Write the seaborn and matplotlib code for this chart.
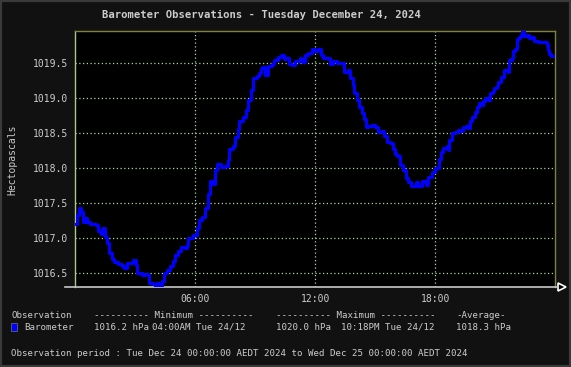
import pandas as pd
import matplotlib
matplotlib.use("Agg")
import matplotlib.pyplot as plt
import matplotlib.patches as mpatches
import seaborn as sns

# data (hours since midnight, hPa)
hours = [0.00, 0.09, 0.18, 0.28, 0.39, 0.48, 0.59, 0.73, 1.03, 1.14,
         1.26, 1.34, 1.48, 1.59, 1.69, 1.81, 1.94, 2.14, 2.31, 2.43,
         2.59, 2.73, 2.89, 3.01, 3.09, 3.31, 3.48, 3.61, 3.69, 3.89,
         3.99, 4.09, 4.19, 4.31, 4.44, 4.56, 4.73, 4.86, 4.99, 5.14,
         5.28, 5.48, 5.59, 5.64, 5.89, 6.06, 6.18, 6.34, 6.48, 6.61,
         6.73, 6.89, 6.98, 7.09, 7.28, 7.48, 7.61, 7.69, 7.89, 7.98,
         8.11, 8.19, 8.36, 8.51, 8.64, 8.78, 8.89, 9.06, 9.18, 9.28,
         9.39, 9.48, 9.61, 9.81, 9.94, 10.11, 10.28, 10.43, 10.53, 10.68,
         10.81, 10.98, 11.14, 11.23, 11.34, 11.48, 11.64, 11.81, 11.98, 12.11,
         12.26, 12.36, 12.59, 12.73, 12.89, 13.06, 13.31, 13.44, 13.61, 13.73,
         13.86, 13.94, 14.06, 14.19, 14.31, 14.44, 14.53, 14.64, 14.81, 14.98,
         15.11, 15.28, 15.43, 15.56, 15.73, 15.86, 15.98, 16.09, 16.23, 16.39,
         16.53, 16.64, 16.76, 16.93, 17.01, 17.14, 17.34, 17.51, 17.64, 17.81,
         17.98, 18.14, 18.19, 18.26, 18.39, 18.56, 18.64, 18.69, 18.81, 18.98,
         19.14, 19.28, 19.39, 19.53, 19.64, 19.73, 19.81, 19.98, 20.09, 20.19,
         20.31, 20.36, 20.48, 20.64, 20.73, 20.86, 20.94, 21.06, 21.14, 21.26,
         21.43, 21.61, 21.69, 21.81, 21.89, 21.98, 22.06, 22.18, 22.26, 22.34,
         22.44, 22.56, 22.69, 22.81, 22.94, 23.14, 23.48, 23.56, 23.64, 23.69,
         23.81, 23.93]
pressure = [1017.20, 1017.33, 1017.44, 1017.38, 1017.24, 1017.29, 1017.24, 1017.20, 1017.19, 1017.10,
            1017.06, 1017.14, 1017.02, 1016.93, 1016.79, 1016.71, 1016.66, 1016.63, 1016.61, 1016.57,
            1016.64, 1016.64, 1016.69, 1016.62, 1016.51, 1016.47, 1016.49, 1016.47, 1016.36, 1016.34,
            1016.30, 1016.36, 1016.30, 1016.39, 1016.51, 1016.55, 1016.60, 1016.67, 1016.76, 1016.82,
            1016.87, 1016.86, 1016.91, 1017.01, 1017.05, 1017.14, 1017.26, 1017.31, 1017.43, 1017.64,
            1017.82, 1017.78, 1017.98, 1018.06, 1018.02, 1018.03, 1018.12, 1018.27, 1018.32, 1018.45,
            1018.56, 1018.68, 1018.73, 1018.83, 1018.98, 1019.12, 1019.29, 1019.32, 1019.36, 1019.43,
            1019.45, 1019.33, 1019.46, 1019.49, 1019.55, 1019.59, 1019.62, 1019.56, 1019.57, 1019.49,
            1019.48, 1019.54, 1019.54, 1019.57, 1019.52, 1019.62, 1019.65, 1019.70, 1019.68, 1019.70,
            1019.62, 1019.57, 1019.57, 1019.49, 1019.54, 1019.50, 1019.50, 1019.38, 1019.41, 1019.29,
            1019.19, 1019.07, 1018.98, 1018.88, 1018.79, 1018.70, 1018.59, 1018.60, 1018.62, 1018.59,
            1018.52, 1018.54, 1018.46, 1018.38, 1018.36, 1018.27, 1018.20, 1018.17, 1018.05, 1017.98,
            1017.86, 1017.81, 1017.75, 1017.75, 1017.81, 1017.75, 1017.82, 1017.76, 1017.87, 1017.95,
            1018.00, 1018.00, 1018.14, 1018.24, 1018.29, 1018.32, 1018.26, 1018.41, 1018.50, 1018.52,
            1018.55, 1018.54, 1018.59, 1018.60, 1018.57, 1018.67, 1018.74, 1018.80, 1018.88, 1018.93,
            1018.90, 1018.96, 1019.01, 1018.98, 1019.07, 1019.10, 1019.15, 1019.18, 1019.23, 1019.31,
            1019.40, 1019.38, 1019.55, 1019.57, 1019.67, 1019.71, 1019.85, 1019.88, 1019.91, 1019.96,
            1019.89, 1019.90, 1019.86, 1019.87, 1019.82, 1019.81, 1019.81, 1019.76, 1019.69, 1019.63,
            1019.61, 1019.61]

x_ticks = [6, 12, 18]
x_tick_labels = ['06:00', '12:00', '18:00']
y_ticks = [1016.5, 1017.0, 1017.5, 1018.0, 1018.5, 1019.0, 1019.5]

title = 'Barometer Observations - Tuesday December 24, 2024'
stats_header = ['Observation', '---------- Minimum ----------',
                '---------- Maximum ----------', '-Average-']
stats_row = ['Barometer', '1016.2 hPa', '04:00AM Tue 24/12',
             '1020.0 hPa', '10:18PM Tue 24/12', '1018.3 hPa']
period = 'Observation period : Tue Dec 24 00:00:00 AEDT 2024 to Wed Dec 25 00:00:00 AEDT 2024'

df = pd.DataFrame({'hour': hours, 'hPa': pressure})

# style
sns.set_style('dark')
plt.rcParams['font.family'] = ['DejaVu Sans Mono']
BG = '#111111'
TXT = '#cccccc'
GRID = '#a8d8a0'

fig = plt.figure(figsize=(5.71, 3.67), dpi=100, facecolor=BG)
fig.patches.append(mpatches.Rectangle((0, 0), 1, 1, transform=fig.transFigure,
                                      fill=False, edgecolor='#3a3a3a', linewidth=3))
ax = fig.add_axes([0.1322, 0.2172, 0.8403, 0.6991])
ax.set_facecolor('black')

sns.lineplot(data=df, x='hour', y='hPa', ax=ax, color='#0000ff', linewidth=2.2,
             drawstyle='steps-post', zorder=3)

ax.set_xlim(0, 24)
ax.set_ylim(1016.3, 1019.966)
ax.set_xticks(x_ticks)
ax.set_xticklabels(x_tick_labels)
ax.set_yticks(y_ticks)
ax.set_yticklabels([f'{v:.1f}' for v in y_ticks])
ax.tick_params(colors=GRID, labelcolor=TXT, labelsize=7, length=3, width=0.8,
               direction='inout')
ax.grid(True, color=GRID, linestyle=(0, (1, 2)), linewidth=0.9)
ax.set_xlabel('')
ax.set_ylabel('')

for side in ['top', 'right']:
    ax.spines[side].set_color('#808040')
    ax.spines[side].set_linewidth(1)
ax.spines['left'].set_color('#a8c890')
ax.spines['bottom'].set_color('#c8c8c8')
ax.spines['bottom'].set_linewidth(1.2)
ax.spines['left'].set_linewidth(1)
ax.spines['bottom'].set_bounds(-0.5, 24.1)
ax.plot([1.013], [0], marker='>', markersize=6, markerfacecolor='black',
        markeredgecolor='white', markeredgewidth=1.2, transform=ax.transAxes,
        clip_on=False)

# texts
W, H = 571, 367
def put(x, y, s, **kw):
    fig.text(x / W, 1 - y / H, s, color=TXT, va='center', **kw)

put(261, 15, title, ha='center', fontsize=7.6, fontweight='bold')
put(12.5, 160, 'Hectopascals', ha='center', fontsize=7, rotation=90)

hdr_x = [11, 94, 276, 456]
for x, s in zip(hdr_x, stats_header):
    put(x, 315, s, ha='left', fontsize=6.6)
row_x = [24, 94, 151.5, 276, 341.5, 456.5]
for x, s in zip(row_x, stats_row):
    put(x, 327.5, s, ha='left', fontsize=6.6)
fig.patches.append(mpatches.Rectangle((11 / W, 1 - 331 / H), 5.7 / W, 7.7 / H,
                                      transform=fig.transFigure, facecolor='#0000ff',
                                      edgecolor='#606080', linewidth=0.6))
put(11, 353.5, period, ha='left', fontsize=6.6)

fig.savefig('out.png', dpi=100, facecolor=BG)
